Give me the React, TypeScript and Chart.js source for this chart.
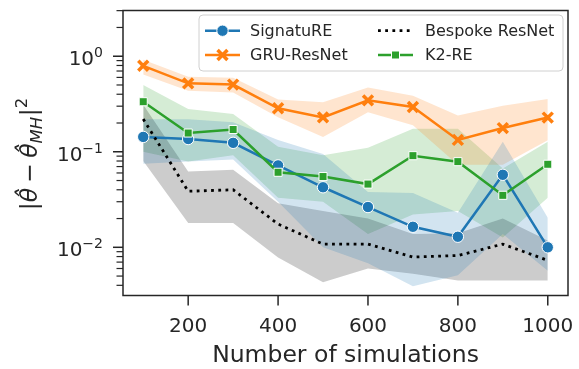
import React, { useEffect, useRef } from "react";
import { Chart, registerables } from "chart.js";

Chart.register(...registerables);

// ---- data ----
const simulations = [100, 200, 300, 400, 500, 600, 700, 800, 900, 1000];

const signatureMean = [0.143, 0.136, 0.124, 0.072, 0.0425, 0.0264, 0.0164, 0.0129, 0.0574, 0.01];
const signatureLow = [0.075, 0.079, 0.083, 0.03, 0.01, 0.0068, 0.0039, 0.0051, 0.0138, 0.0057];
const signatureHigh = [0.219, 0.219, 0.204, 0.133, 0.095, 0.038, 0.037, 0.023, 0.127, 0.0204];

const gruMean = [0.794, 0.52, 0.505, 0.285, 0.229, 0.345, 0.294, 0.133, 0.177, 0.228];
const gruLow = [0.645, 0.435, 0.417, 0.23, 0.143, 0.259, 0.19, 0.073, 0.073, 0.132];
const gruHigh = [0.92, 0.61, 0.595, 0.353, 0.329, 0.47, 0.386, 0.24, 0.304, 0.356];

const bespokeMean = [0.22, 0.0386, 0.04, 0.0175, 0.0108, 0.0108, 0.0079, 0.0082, 0.0108, 0.0073];
const bespokeLow = [0.08, 0.018, 0.018, 0.0078, 0.0043, 0.006, 0.0053, 0.0045, 0.0045, 0.0045];
const bespokeHigh = [0.31, 0.062, 0.065, 0.029, 0.024, 0.02, 0.0138, 0.014, 0.02, 0.0118];

const k2Mean = [0.334, 0.157, 0.171, 0.061, 0.055, 0.0459, 0.091, 0.0788, 0.035, 0.074];
const k2Low = [0.1, 0.079, 0.092, 0.033, 0.03, 0.0138, 0.022, 0.024, 0.0127, 0.033];
const k2High = [0.5, 0.28, 0.249, 0.113, 0.092, 0.11, 0.174, 0.174, 0.067, 0.127];

const xTicks = [200, 400, 600, 800, 1000];
const yMajorTicks = [1, 0.1, 0.01];
const yTickExponents = ["0", "\u22121", "\u22122"];

const xLabel = "Number of simulations";
const legendLabels = ["SignatuRE", "GRU-ResNet", "Bespoke ResNet", "K2-RE"];

const X_MIN = 55;
const X_MAX = 1045;
const Y_MIN = 0.00313;
const Y_MAX = 3.01;

const BLUE = "#1f77b4";
const ORANGE = "#ff7f0e";
const GREEN = "#2ca02c";
const BLACK = "#000000";
const INK = "#262626";
const FONT = '"DejaVu Sans"';

function pts(ys: number[]) {
  return simulations.map((x, i) => ({ x, y: ys[i] }));
}

function drawMarker(ctx: CanvasRenderingContext2D, kind: string, x: number, y: number, color: string) {
  ctx.save();
  if (kind === "circle") {
    ctx.beginPath();
    ctx.arc(x, y, 5.7, 0, Math.PI * 2);
    ctx.fillStyle = color;
    ctx.fill();
    ctx.strokeStyle = "#fff";
    ctx.lineWidth = 1;
    ctx.stroke();
  } else if (kind === "cross") {
    const d = 7 * Math.SQRT1_2;
    ctx.strokeStyle = color;
    ctx.lineWidth = 3.5;
    ctx.beginPath();
    ctx.moveTo(x - d, y - d);
    ctx.lineTo(x + d, y + d);
    ctx.moveTo(x - d, y + d);
    ctx.lineTo(x + d, y - d);
    ctx.stroke();
  } else if (kind === "square") {
    const s = 4;
    ctx.fillStyle = color;
    ctx.fillRect(x - s, y - s, 2 * s, 2 * s);
    ctx.strokeStyle = "#fff";
    ctx.lineWidth = 1;
    ctx.strokeRect(x - s, y - s, 2 * s, 2 * s);
  }
  ctx.restore();
}

const decor = {
  id: "decor",
  afterDraw(chart: any) {
    const ctx: CanvasRenderingContext2D = chart.ctx;
    const { left, right, top, bottom } = chart.chartArea;
    const xs = chart.scales.x;
    const ys = chart.scales.y;
    ctx.save();

    // spines
    ctx.strokeStyle = INK;
    ctx.lineWidth = 1.5;
    ctx.strokeRect(left, top, right - left, bottom - top);

    // x ticks + labels
    ctx.fillStyle = INK;
    ctx.font = `20px ${FONT}`;
    ctx.textAlign = "center";
    ctx.textBaseline = "alphabetic";
    xTicks.forEach((v) => {
      const px = xs.getPixelForValue(v);
      ctx.beginPath();
      ctx.moveTo(px, bottom);
      ctx.lineTo(px, bottom + 10);
      ctx.stroke();
      ctx.fillText(String(v), px, bottom + 36.5);
    });

    // y minor ticks
    ctx.lineWidth = 1.2;
    for (let e = -3; e <= 0; e++) {
      for (let m = 2; m <= 9; m++) {
        const v = m * Math.pow(10, e);
        if (v < Y_MIN || v > Y_MAX) continue;
        const py = ys.getPixelForValue(v);
        ctx.beginPath();
        ctx.moveTo(left, py);
        ctx.lineTo(left - 6.5, py);
        ctx.stroke();
      }
    }
    // y major ticks + labels
    ctx.lineWidth = 1.5;
    ctx.textAlign = "left";
    yMajorTicks.forEach((v, i) => {
      const py = ys.getPixelForValue(v);
      ctx.beginPath();
      ctx.moveTo(left, py);
      ctx.lineTo(left - 10, py);
      ctx.stroke();
      const base = "10";
      const sup = yTickExponents[i];
      ctx.font = `20px ${FONT}`;
      const wb = ctx.measureText(base).width;
      ctx.font = `14px ${FONT}`;
      const ws = ctx.measureText(sup).width;
      const xEnd = left - 20;
      const x0 = xEnd - wb - ws;
      const baseline = py + 8.8;
      ctx.font = `20px ${FONT}`;
      ctx.fillText(base, x0, baseline);
      ctx.font = `14px ${FONT}`;
      ctx.fillText(sup, x0 + wb, baseline - 8);
    });

    // x axis title
    ctx.font = `23.5px ${FONT}`;
    ctx.textAlign = "center";
    ctx.fillText(xLabel, (left + right) / 2, 362);

    // y axis title (mathtext-like)
    ctx.save();
    ctx.translate(37, 154);
    ctx.rotate(-Math.PI / 2);
    ctx.textAlign = "left";
    const big = 23.5;
    const small = 16.5;
    const parts = [
      { t: "|", f: `${big}px ${FONT}`, dy: 0, pl: 0, pr: 0 },
      { t: "\u03B8\u0302", f: `italic ${big}px ${FONT}`, dy: 0, pl: 0, pr: 0 },
      { t: "\u2212", f: `${big}px ${FONT}`, dy: 0, pl: 0.22 * big, pr: 0.22 * big },
      { t: "\u03B8\u0302", f: `italic ${big}px ${FONT}`, dy: 0, pl: 0, pr: 0 },
      { t: "MH", f: `italic ${small}px ${FONT}`, dy: 5, pl: 0, pr: 0.5 },
      { t: "|", f: `${big}px ${FONT}`, dy: 0, pl: 0, pr: 0 },
      { t: "2", f: `${small}px ${FONT}`, dy: -10, pl: 0, pr: 0 },
    ];
    let total = 0;
    const widths = parts.map((p) => {
      ctx.font = p.f;
      const w = ctx.measureText(p.t).width;
      total += p.pl + w + p.pr;
      return w;
    });
    let cx = -total / 2;
    parts.forEach((p, i) => {
      ctx.font = p.f;
      cx += p.pl;
      ctx.fillText(p.t, cx, p.dy);
      cx += widths[i] + p.pr;
    });
    ctx.restore();

    // legend
    const bx = 199, by = 15, bw = 364, bh = 56;
    ctx.beginPath();
    (ctx as any).roundRect(bx, by, bw, bh, 4);
    ctx.fillStyle = "rgba(255,255,255,0.8)";
    ctx.fill();
    ctx.strokeStyle = "#d0d0d0";
    ctx.lineWidth = 1;
    ctx.stroke();

    const rows = [30.7, 55];
    const items = [
      { label: legendLabels[0], col: 0, row: 0, color: BLUE, marker: "circle", dash: [] as number[], lw: 2.5 },
      { label: legendLabels[1], col: 0, row: 1, color: ORANGE, marker: "cross", dash: [] as number[], lw: 2.5 },
      { label: legendLabels[2], col: 1, row: 0, color: BLACK, marker: "", dash: [2.8, 4.4], lw: 2.8 },
      { label: legendLabels[3], col: 1, row: 1, color: GREEN, marker: "square", dash: [] as number[], lw: 2.5 },
    ];
    const cols = [
      { h0: 205, h1: 240, tx: 250 },
      { h0: 378, h1: 413, tx: 425 },
    ];
    ctx.font = `16px ${FONT}`;
    ctx.textBaseline = "middle";
    ctx.textAlign = "left";
    items.forEach((it) => {
      const c = cols[it.col];
      const y = rows[it.row];
      ctx.save();
      ctx.strokeStyle = it.color;
      ctx.lineWidth = it.lw;
      ctx.setLineDash(it.dash);
      ctx.beginPath();
      ctx.moveTo(c.h0, y);
      ctx.lineTo(c.h1, y);
      ctx.stroke();
      ctx.restore();
      if (it.marker) drawMarker(ctx, it.marker, (c.h0 + c.h1) / 2, y, it.color);
      ctx.fillStyle = INK;
      ctx.fillText(it.label, c.tx, y + 1);
    });

    ctx.restore();
  },
};

export default function App() {
  const ref = useRef<HTMLCanvasElement | null>(null);

  useEffect(() => {
    document.body.style.margin = "0";
    const canvas = ref.current;
    if (!canvas) return;

    const band = (low: number[], high: number[], fillColor: string) => [
      {
        data: pts(low),
        borderWidth: 0,
        borderColor: "transparent",
        pointRadius: 0,
        fill: false,
        order: 10,
      },
      {
        data: pts(high),
        borderWidth: 0,
        borderColor: "transparent",
        backgroundColor: fillColor,
        pointRadius: 0,
        fill: "-1",
        order: 10,
      },
    ];

    const datasets: any[] = [
      ...band(signatureLow, signatureHigh, "rgba(31,119,180,0.2)"),
      ...band(gruLow, gruHigh, "rgba(255,127,14,0.2)"),
      ...band(bespokeLow, bespokeHigh, "rgba(0,0,0,0.2)"),
      ...band(k2Low, k2High, "rgba(44,160,44,0.2)"),
      {
        label: legendLabels[0],
        data: pts(signatureMean),
        borderColor: BLUE,
        borderWidth: 2.5,
        pointStyle: "circle",
        pointRadius: 5.7,
        pointBackgroundColor: BLUE,
        pointBorderColor: "#ffffff",
        pointBorderWidth: 1,
        fill: false,
        order: 4,
      },
      {
        label: legendLabels[1],
        data: pts(gruMean),
        borderColor: ORANGE,
        borderWidth: 2.5,
        pointStyle: "crossRot",
        pointRadius: 7,
        pointBackgroundColor: ORANGE,
        pointBorderColor: ORANGE,
        pointBorderWidth: 3.5,
        fill: false,
        order: 3,
      },
      {
        label: legendLabels[2],
        data: pts(bespokeMean),
        borderColor: BLACK,
        borderWidth: 2.8,
        borderDash: [2.8, 4.4],
        borderCapStyle: "butt",
        pointRadius: 0,
        fill: false,
        order: 2,
      },
      {
        label: legendLabels[3],
        data: pts(k2Mean),
        borderColor: GREEN,
        borderWidth: 2.5,
        pointStyle: "rect",
        pointRadius: 5.7,
        pointBackgroundColor: GREEN,
        pointBorderColor: "#ffffff",
        pointBorderWidth: 1,
        fill: false,
        order: 1,
      },
    ];

    const chart = new Chart(canvas, {
      type: "line",
      data: { datasets },
      options: {
        animation: false,
        responsive: false,
        devicePixelRatio: 1,
        events: [],
        layout: { padding: { left: 123, right: 11, top: 7, bottom: 73.5 } },
        elements: { line: { tension: 0 } },
        scales: {
          x: { type: "linear", min: X_MIN, max: X_MAX, display: false },
          y: { type: "logarithmic", min: Y_MIN, max: Y_MAX, display: false },
        },
        plugins: {
          legend: { display: false },
          tooltip: { enabled: false },
          filler: { drawTime: "beforeDatasetsDraw" },
        },
      } as any,
      plugins: [decor],
    });

    return () => chart.destroy();
  }, []);

  return (
    <div style={{ width: 579, height: 369, background: "#fff" }}>
      <canvas ref={ref} width={579} height={369} style={{ display: "block" }} />
    </div>
  );
}
